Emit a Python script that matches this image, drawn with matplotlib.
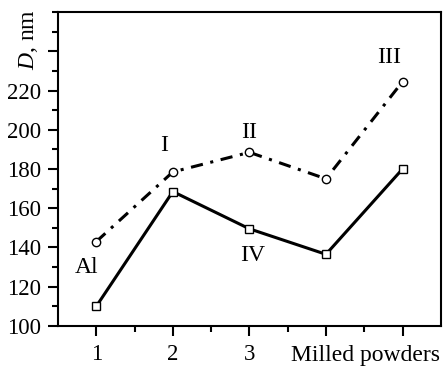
import matplotlib
matplotlib.use("Agg")
import matplotlib.pyplot as plt
from matplotlib.ticker import MultipleLocator, FixedLocator

plt.rcParams['font.family'] = ['Liberation Serif', 'DejaVu Serif']
plt.rcParams['mathtext.fontset'] = 'custom'
plt.rcParams['mathtext.it'] = 'Liberation Serif:italic'
plt.rcParams['mathtext.rm'] = 'Liberation Serif'

# Data
samples = [1, 2, 3, 4, 5]
d_circles = [143, 178.5, 188.5, 175, 224.5]   # dash-dot curve
d_squares = [110, 168.5, 149.5, 136.5, 180]   # solid curve

# Point labels: text, x, y
labels = ['Al', 'I', 'II', 'III', 'IV']
label_x = [0.87, 1.88, 3.0, 4.83, 3.04]
label_y = [130, 192, 198.5, 237, 136]

fig = plt.figure(figsize=(4.43, 3.67), dpi=100)
ax = fig.add_axes([0.131, 0.112, 0.864, 0.855])

ax.plot(samples, d_circles, color='black', lw=2.2,
        linestyle=(0, (4, 2.5, 1, 2.5)),
        marker='o', ms=6, mfc='white', mec='black', mew=1.0)
ax.plot(samples, d_squares, color='black', lw=2.2, linestyle='-',
        marker='s', ms=6, mfc='white', mec='black', mew=1.0)

for t, x, y in zip(labels, label_x, label_y):
    ax.text(x, y, t, fontsize=17, ha='center', va='center')

ax.set_xlim(0.5, 5.5)
ax.set_ylim(100, 260)

ax.xaxis.set_major_locator(FixedLocator([1, 2, 3, 4, 5]))
ax.xaxis.set_minor_locator(FixedLocator([1.5, 2.5, 3.5, 4.5]))
ax.set_xticklabels(['1', '2', '3', '', ''])
ax.text(4.52, -0.062, 'Milled powders', transform=ax.get_xaxis_transform(),
        fontsize=17, ha='center', va='top')

ax.yaxis.set_minor_locator(MultipleLocator(10))
ax.set_yticks([100, 120, 140, 160, 180, 200, 220, 240])
ax.set_yticklabels(['100', '120', '140', '160', '180', '200', '220', ''])

ax.tick_params(axis='both', which='major', direction='out', length=7,
               width=1.5, labelsize=16.5)
ax.tick_params(axis='x', which='major', pad=6)
ax.tick_params(axis='y', which='major', pad=5)
ax.tick_params(axis='both', which='minor', direction='out', length=4,
               width=1.5)
ax.tick_params(top=False, right=False)

for s in ax.spines.values():
    s.set_linewidth(1.5)

ax.text(-0.078, 246, '$D$, nm', transform=ax.get_yaxis_transform(),
        fontsize=17, rotation=90, ha='center', va='center')

fig.savefig('out.png', dpi=100)
